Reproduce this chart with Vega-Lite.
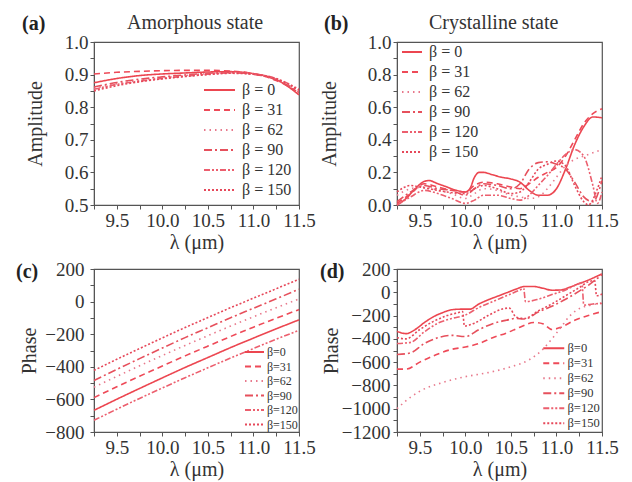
{
  "$schema": "https://vega.github.io/schema/vega-lite/v6.json",
  "padding": {"left": 15, "top": 12, "right": 5, "bottom": 2},
  "background": "white",
  "config": {
    "view": {"stroke": "#555", "strokeWidth": 1.2},
    "font": "Liberation Serif",
    "axis": {"grid": false, "labelFont": "Liberation Serif", "labelFontSize": 19, "labelColor": "#333", "labelPadding": 2, "labelOverlap": false, "labelFlush": false, "titleFont": "Liberation Serif", "titleFontSize": 20, "titleFontWeight": "normal", "titleColor": "#333", "tickSize": 4, "tickColor": "#555", "domainColor": "#555"},
    "legend": {"labelFont": "Liberation Serif", "labelColor": "#333", "padding": 0, "symbolStrokeWidth": 1.8},
    "title": {"font": "Liberation Serif", "fontSize": 20, "fontWeight": "bold", "color": "#222", "anchor": "start", "frame": "group", "subtitleFont": "Liberation Serif", "subtitleFontSize": 20, "subtitleColor": "#333", "subtitleFontWeight": "normal"}
  },
  "datasets": {
    "a": [
      {"lam":9.25,"val":0.875,"beta":"β = 0"},{"lam":9.5,"val":0.888,"beta":"β = 0"},{"lam":9.75,"val":0.897,"beta":"β = 0"},{"lam":10,"val":0.902,"beta":"β = 0"},{"lam":10.25,"val":0.905,"beta":"β = 0"},{"lam":10.5,"val":0.908,"beta":"β = 0"},{"lam":10.75,"val":0.909,"beta":"β = 0"},{"lam":11,"val":0.903,"beta":"β = 0"},{"lam":11.25,"val":0.885,"beta":"β = 0"},{"lam":11.5,"val":0.838,"beta":"β = 0"},
      {"lam":9.25,"val":0.902,"beta":"β = 31"},{"lam":9.5,"val":0.907,"beta":"β = 31"},{"lam":9.75,"val":0.910,"beta":"β = 31"},{"lam":10,"val":0.912,"beta":"β = 31"},{"lam":10.25,"val":0.913,"beta":"β = 31"},{"lam":10.5,"val":0.913,"beta":"β = 31"},{"lam":10.75,"val":0.911,"beta":"β = 31"},{"lam":11,"val":0.903,"beta":"β = 31"},{"lam":11.25,"val":0.882,"beta":"β = 31"},{"lam":11.5,"val":0.845,"beta":"β = 31"},
      {"lam":9.25,"val":0.858,"beta":"β = 62"},{"lam":9.5,"val":0.872,"beta":"β = 62"},{"lam":9.75,"val":0.882,"beta":"β = 62"},{"lam":10,"val":0.890,"beta":"β = 62"},{"lam":10.25,"val":0.897,"beta":"β = 62"},{"lam":10.5,"val":0.903,"beta":"β = 62"},{"lam":10.75,"val":0.906,"beta":"β = 62"},{"lam":11,"val":0.902,"beta":"β = 62"},{"lam":11.25,"val":0.886,"beta":"β = 62"},{"lam":11.5,"val":0.850,"beta":"β = 62"},
      {"lam":9.25,"val":0.862,"beta":"β = 90"},{"lam":9.5,"val":0.876,"beta":"β = 90"},{"lam":9.75,"val":0.886,"beta":"β = 90"},{"lam":10,"val":0.893,"beta":"β = 90"},{"lam":10.25,"val":0.899,"beta":"β = 90"},{"lam":10.5,"val":0.904,"beta":"β = 90"},{"lam":10.75,"val":0.906,"beta":"β = 90"},{"lam":11,"val":0.901,"beta":"β = 90"},{"lam":11.25,"val":0.884,"beta":"β = 90"},{"lam":11.5,"val":0.845,"beta":"β = 90"},
      {"lam":9.25,"val":0.855,"beta":"β = 120"},{"lam":9.5,"val":0.870,"beta":"β = 120"},{"lam":9.75,"val":0.880,"beta":"β = 120"},{"lam":10,"val":0.888,"beta":"β = 120"},{"lam":10.25,"val":0.895,"beta":"β = 120"},{"lam":10.5,"val":0.901,"beta":"β = 120"},{"lam":10.75,"val":0.905,"beta":"β = 120"},{"lam":11,"val":0.902,"beta":"β = 120"},{"lam":11.25,"val":0.888,"beta":"β = 120"},{"lam":11.5,"val":0.855,"beta":"β = 120"},
      {"lam":9.25,"val":0.850,"beta":"β = 150"},{"lam":9.5,"val":0.866,"beta":"β = 150"},{"lam":9.75,"val":0.878,"beta":"β = 150"},{"lam":10,"val":0.887,"beta":"β = 150"},{"lam":10.25,"val":0.894,"beta":"β = 150"},{"lam":10.5,"val":0.900,"beta":"β = 150"},{"lam":10.75,"val":0.904,"beta":"β = 150"},{"lam":11,"val":0.901,"beta":"β = 150"},{"lam":11.25,"val":0.887,"beta":"β = 150"},{"lam":11.5,"val":0.852,"beta":"β = 150"}
    ],
    "b": [
      {"lam":9.25,"val":0.0,"beta":"β = 0"},{"lam":9.35,"val":0.04,"beta":"β = 0"},{"lam":9.45,"val":0.10,"beta":"β = 0"},{"lam":9.55,"val":0.145,"beta":"β = 0"},{"lam":9.6,"val":0.15,"beta":"β = 0"},{"lam":9.7,"val":0.13,"beta":"β = 0"},{"lam":9.8,"val":0.11,"beta":"β = 0"},{"lam":9.9,"val":0.09,"beta":"β = 0"},{"lam":10.0,"val":0.08,"beta":"β = 0"},{"lam":10.05,"val":0.10,"beta":"β = 0"},{"lam":10.1,"val":0.17,"beta":"β = 0"},{"lam":10.15,"val":0.20,"beta":"β = 0"},{"lam":10.2,"val":0.20,"beta":"β = 0"},{"lam":10.3,"val":0.185,"beta":"β = 0"},{"lam":10.4,"val":0.17,"beta":"β = 0"},{"lam":10.5,"val":0.16,"beta":"β = 0"},{"lam":10.6,"val":0.14,"beta":"β = 0"},{"lam":10.7,"val":0.09,"beta":"β = 0"},{"lam":10.8,"val":0.06,"beta":"β = 0"},{"lam":10.9,"val":0.06,"beta":"β = 0"},{"lam":11.0,"val":0.10,"beta":"β = 0"},{"lam":11.1,"val":0.22,"beta":"β = 0"},{"lam":11.2,"val":0.37,"beta":"β = 0"},{"lam":11.3,"val":0.48,"beta":"β = 0"},{"lam":11.4,"val":0.54,"beta":"β = 0"},{"lam":11.5,"val":0.535,"beta":"β = 0"},
      {"lam":9.25,"val":0.01,"beta":"β = 31"},{"lam":9.4,"val":0.07,"beta":"β = 31"},{"lam":9.55,"val":0.13,"beta":"β = 31"},{"lam":9.7,"val":0.11,"beta":"β = 31"},{"lam":9.85,"val":0.09,"beta":"β = 31"},{"lam":10.0,"val":0.08,"beta":"β = 31"},{"lam":10.1,"val":0.12,"beta":"β = 31"},{"lam":10.2,"val":0.14,"beta":"β = 31"},{"lam":10.35,"val":0.13,"beta":"β = 31"},{"lam":10.5,"val":0.11,"beta":"β = 31"},{"lam":10.6,"val":0.10,"beta":"β = 31"},{"lam":10.7,"val":0.13,"beta":"β = 31"},{"lam":10.8,"val":0.17,"beta":"β = 31"},{"lam":10.9,"val":0.20,"beta":"β = 31"},{"lam":11.0,"val":0.23,"beta":"β = 31"},{"lam":11.1,"val":0.30,"beta":"β = 31"},{"lam":11.2,"val":0.40,"beta":"β = 31"},{"lam":11.3,"val":0.50,"beta":"β = 31"},{"lam":11.4,"val":0.56,"beta":"β = 31"},{"lam":11.5,"val":0.59,"beta":"β = 31"},
      {"lam":9.25,"val":0.06,"beta":"β = 62"},{"lam":9.4,"val":0.10,"beta":"β = 62"},{"lam":9.55,"val":0.11,"beta":"β = 62"},{"lam":9.7,"val":0.09,"beta":"β = 62"},{"lam":9.85,"val":0.07,"beta":"β = 62"},{"lam":10.0,"val":0.04,"beta":"β = 62"},{"lam":10.1,"val":0.07,"beta":"β = 62"},{"lam":10.2,"val":0.10,"beta":"β = 62"},{"lam":10.35,"val":0.09,"beta":"β = 62"},{"lam":10.5,"val":0.06,"beta":"β = 62"},{"lam":10.6,"val":0.05,"beta":"β = 62"},{"lam":10.7,"val":0.04,"beta":"β = 62"},{"lam":10.8,"val":0.05,"beta":"β = 62"},{"lam":10.9,"val":0.10,"beta":"β = 62"},{"lam":11.0,"val":0.17,"beta":"β = 62"},{"lam":11.1,"val":0.24,"beta":"β = 62"},{"lam":11.2,"val":0.28,"beta":"β = 62"},{"lam":11.3,"val":0.30,"beta":"β = 62"},{"lam":11.4,"val":0.32,"beta":"β = 62"},{"lam":11.5,"val":0.34,"beta":"β = 62"},
      {"lam":9.25,"val":0.02,"beta":"β = 90"},{"lam":9.4,"val":0.08,"beta":"β = 90"},{"lam":9.55,"val":0.12,"beta":"β = 90"},{"lam":9.7,"val":0.10,"beta":"β = 90"},{"lam":9.85,"val":0.09,"beta":"β = 90"},{"lam":10.0,"val":0.06,"beta":"β = 90"},{"lam":10.1,"val":0.10,"beta":"β = 90"},{"lam":10.2,"val":0.13,"beta":"β = 90"},{"lam":10.35,"val":0.12,"beta":"β = 90"},{"lam":10.5,"val":0.10,"beta":"β = 90"},{"lam":10.6,"val":0.13,"beta":"β = 90"},{"lam":10.7,"val":0.22,"beta":"β = 90"},{"lam":10.8,"val":0.26,"beta":"β = 90"},{"lam":10.9,"val":0.265,"beta":"β = 90"},{"lam":11.0,"val":0.25,"beta":"β = 90"},{"lam":11.1,"val":0.22,"beta":"β = 90"},{"lam":11.2,"val":0.14,"beta":"β = 90"},{"lam":11.3,"val":0.05,"beta":"β = 90"},{"lam":11.4,"val":0.02,"beta":"β = 90"},{"lam":11.5,"val":0.15,"beta":"β = 90"},
      {"lam":9.25,"val":0.0,"beta":"β = 120"},{"lam":9.4,"val":0.05,"beta":"β = 120"},{"lam":9.55,"val":0.09,"beta":"β = 120"},{"lam":9.7,"val":0.07,"beta":"β = 120"},{"lam":9.85,"val":0.04,"beta":"β = 120"},{"lam":10.0,"val":0.01,"beta":"β = 120"},{"lam":10.1,"val":0.03,"beta":"β = 120"},{"lam":10.2,"val":0.06,"beta":"β = 120"},{"lam":10.35,"val":0.06,"beta":"β = 120"},{"lam":10.5,"val":0.04,"beta":"β = 120"},{"lam":10.6,"val":0.03,"beta":"β = 120"},{"lam":10.7,"val":0.06,"beta":"β = 120"},{"lam":10.8,"val":0.12,"beta":"β = 120"},{"lam":10.9,"val":0.18,"beta":"β = 120"},{"lam":11.0,"val":0.25,"beta":"β = 120"},{"lam":11.1,"val":0.31,"beta":"β = 120"},{"lam":11.2,"val":0.34,"beta":"β = 120"},{"lam":11.3,"val":0.30,"beta":"β = 120"},{"lam":11.4,"val":0.12,"beta":"β = 120"},{"lam":11.45,"val":0.01,"beta":"β = 120"},{"lam":11.5,"val":0.08,"beta":"β = 120"},
      {"lam":9.25,"val":0.08,"beta":"β = 150"},{"lam":9.4,"val":0.12,"beta":"β = 150"},{"lam":9.5,"val":0.11,"beta":"β = 150"},{"lam":9.6,"val":0.10,"beta":"β = 150"},{"lam":9.8,"val":0.08,"beta":"β = 150"},{"lam":10.0,"val":0.07,"beta":"β = 150"},{"lam":10.1,"val":0.10,"beta":"β = 150"},{"lam":10.2,"val":0.12,"beta":"β = 150"},{"lam":10.35,"val":0.10,"beta":"β = 150"},{"lam":10.5,"val":0.07,"beta":"β = 150"},{"lam":10.6,"val":0.08,"beta":"β = 150"},{"lam":10.7,"val":0.14,"beta":"β = 150"},{"lam":10.8,"val":0.22,"beta":"β = 150"},{"lam":10.9,"val":0.25,"beta":"β = 150"},{"lam":11.0,"val":0.27,"beta":"β = 150"},{"lam":11.1,"val":0.24,"beta":"β = 150"},{"lam":11.2,"val":0.12,"beta":"β = 150"},{"lam":11.3,"val":0.02,"beta":"β = 150"},{"lam":11.35,"val":0.0,"beta":"β = 150"},{"lam":11.45,"val":0.10,"beta":"β = 150"},{"lam":11.5,"val":0.18,"beta":"β = 150"}
    ],
    "c": [
      {"lam":9.25,"val":-667,"beta":"β=0"},{"lam":9.5,"val":-599,"beta":"β=0"},{"lam":9.75,"val":-533,"beta":"β=0"},{"lam":10,"val":-468,"beta":"β=0"},{"lam":10.25,"val":-404,"beta":"β=0"},{"lam":10.5,"val":-343,"beta":"β=0"},{"lam":10.75,"val":-282,"beta":"β=0"},{"lam":11,"val":-224,"beta":"β=0"},{"lam":11.25,"val":-167,"beta":"β=0"},{"lam":11.5,"val":-112,"beta":"β=0"},
      {"lam":9.25,"val":-589,"beta":"β=31"},{"lam":9.5,"val":-523,"beta":"β=31"},{"lam":9.75,"val":-458,"beta":"β=31"},{"lam":10,"val":-395,"beta":"β=31"},{"lam":10.25,"val":-333,"beta":"β=31"},{"lam":10.5,"val":-273,"beta":"β=31"},{"lam":10.75,"val":-214,"beta":"β=31"},{"lam":11,"val":-157,"beta":"β=31"},{"lam":11.25,"val":-102,"beta":"β=31"},{"lam":11.5,"val":-49,"beta":"β=31"},
      {"lam":9.25,"val":-525,"beta":"β=62"},{"lam":9.5,"val":-459,"beta":"β=62"},{"lam":9.75,"val":-394,"beta":"β=62"},{"lam":10,"val":-331,"beta":"β=62"},{"lam":10.25,"val":-269,"beta":"β=62"},{"lam":10.5,"val":-209,"beta":"β=62"},{"lam":10.75,"val":-150,"beta":"β=62"},{"lam":11,"val":-93,"beta":"β=62"},{"lam":11.25,"val":-38,"beta":"β=62"},{"lam":11.5,"val":16,"beta":"β=62"},
      {"lam":9.25,"val":-484,"beta":"β=90"},{"lam":9.5,"val":-416,"beta":"β=90"},{"lam":9.75,"val":-350,"beta":"β=90"},{"lam":10,"val":-285,"beta":"β=90"},{"lam":10.25,"val":-221,"beta":"β=90"},{"lam":10.5,"val":-160,"beta":"β=90"},{"lam":10.75,"val":-99,"beta":"β=90"},{"lam":11,"val":-41,"beta":"β=90"},{"lam":11.25,"val":17,"beta":"β=90"},{"lam":11.5,"val":76,"beta":"β=90"},
      {"lam":9.25,"val":-728,"beta":"β=120"},{"lam":9.5,"val":-660,"beta":"β=120"},{"lam":9.75,"val":-594,"beta":"β=120"},{"lam":10,"val":-530,"beta":"β=120"},{"lam":10.25,"val":-467,"beta":"β=120"},{"lam":10.5,"val":-406,"beta":"β=120"},{"lam":10.75,"val":-346,"beta":"β=120"},{"lam":11,"val":-288,"beta":"β=120"},{"lam":11.25,"val":-231,"beta":"β=120"},{"lam":11.5,"val":-176,"beta":"β=120"},
      {"lam":9.25,"val":-422,"beta":"β=150"},{"lam":9.5,"val":-354,"beta":"β=150"},{"lam":9.75,"val":-288,"beta":"β=150"},{"lam":10,"val":-223,"beta":"β=150"},{"lam":10.25,"val":-159,"beta":"β=150"},{"lam":10.5,"val":-98,"beta":"β=150"},{"lam":10.75,"val":-37,"beta":"β=150"},{"lam":11,"val":21,"beta":"β=150"},{"lam":11.25,"val":79,"beta":"β=150"},{"lam":11.5,"val":137,"beta":"β=150"}
    ],
    "d": [
      {"lam":9.25,"val":-335,"beta":"β=0"},{"lam":9.35,"val":-355,"beta":"β=0"},{"lam":9.45,"val":-320,"beta":"β=0"},{"lam":9.55,"val":-260,"beta":"β=0"},{"lam":9.65,"val":-210,"beta":"β=0"},{"lam":9.75,"val":-175,"beta":"β=0"},{"lam":9.85,"val":-150,"beta":"β=0"},{"lam":9.95,"val":-145,"beta":"β=0"},{"lam":10.05,"val":-145,"beta":"β=0"},{"lam":10.15,"val":-100,"beta":"β=0"},{"lam":10.25,"val":-65,"beta":"β=0"},{"lam":10.35,"val":-35,"beta":"β=0"},{"lam":10.45,"val":-5,"beta":"β=0"},{"lam":10.55,"val":25,"beta":"β=0"},{"lam":10.65,"val":50,"beta":"β=0"},{"lam":10.75,"val":50,"beta":"β=0"},{"lam":10.85,"val":35,"beta":"β=0"},{"lam":10.95,"val":18,"beta":"β=0"},{"lam":11.05,"val":20,"beta":"β=0"},{"lam":11.15,"val":45,"beta":"β=0"},{"lam":11.25,"val":75,"beta":"β=0"},{"lam":11.35,"val":105,"beta":"β=0"},{"lam":11.45,"val":140,"beta":"β=0"},{"lam":11.5,"val":158,"beta":"β=0"},
      {"lam":9.25,"val":-660,"beta":"β=31"},{"lam":9.35,"val":-660,"beta":"β=31"},{"lam":9.5,"val":-600,"beta":"β=31"},{"lam":9.7,"val":-530,"beta":"β=31"},{"lam":9.85,"val":-490,"beta":"β=31"},{"lam":10.0,"val":-470,"beta":"β=31"},{"lam":10.15,"val":-440,"beta":"β=31"},{"lam":10.3,"val":-390,"beta":"β=31"},{"lam":10.45,"val":-350,"beta":"β=31"},{"lam":10.6,"val":-300,"beta":"β=31"},{"lam":10.75,"val":-260,"beta":"β=31"},{"lam":10.85,"val":-270,"beta":"β=31"},{"lam":10.95,"val":-320,"beta":"β=31"},{"lam":11.05,"val":-300,"beta":"β=31"},{"lam":11.2,"val":-240,"beta":"β=31"},{"lam":11.35,"val":-200,"beta":"β=31"},{"lam":11.5,"val":-165,"beta":"β=31"},
      {"lam":9.25,"val":-1000,"beta":"β=62"},{"lam":9.4,"val":-900,"beta":"β=62"},{"lam":9.5,"val":-850,"beta":"β=62"},{"lam":9.75,"val":-775,"beta":"β=62"},{"lam":10.0,"val":-725,"beta":"β=62"},{"lam":10.25,"val":-690,"beta":"β=62"},{"lam":10.5,"val":-640,"beta":"β=62"},{"lam":10.7,"val":-580,"beta":"β=62"},{"lam":10.85,"val":-490,"beta":"β=62"},{"lam":10.95,"val":-400,"beta":"β=62"},{"lam":11.05,"val":-300,"beta":"β=62"},{"lam":11.15,"val":-200,"beta":"β=62"},{"lam":11.25,"val":-140,"beta":"β=62"},{"lam":11.35,"val":-115,"beta":"β=62"},{"lam":11.5,"val":-92,"beta":"β=62"},
      {"lam":9.25,"val":-535,"beta":"β=90"},{"lam":9.4,"val":-520,"beta":"β=90"},{"lam":9.55,"val":-440,"beta":"β=90"},{"lam":9.7,"val":-390,"beta":"β=90"},{"lam":9.85,"val":-370,"beta":"β=90"},{"lam":10.0,"val":-380,"beta":"β=90"},{"lam":10.15,"val":-320,"beta":"β=90"},{"lam":10.3,"val":-270,"beta":"β=90"},{"lam":10.45,"val":-240,"beta":"β=90"},{"lam":10.55,"val":-225,"beta":"β=90"},{"lam":10.65,"val":-230,"beta":"β=90"},{"lam":10.8,"val":-170,"beta":"β=90"},{"lam":10.95,"val":-120,"beta":"β=90"},{"lam":11.1,"val":-60,"beta":"β=90"},{"lam":11.25,"val":10,"beta":"β=90"},{"lam":11.35,"val":60,"beta":"β=90"},{"lam":11.45,"val":120,"beta":"β=90"},{"lam":11.5,"val":150,"beta":"β=90"},
      {"lam":9.25,"val":-440,"beta":"β=120"},{"lam":9.4,"val":-430,"beta":"β=120"},{"lam":9.55,"val":-340,"beta":"β=120"},{"lam":9.7,"val":-265,"beta":"β=120"},{"lam":9.85,"val":-225,"beta":"β=120"},{"lam":10.0,"val":-195,"beta":"β=120"},{"lam":10.15,"val":-130,"beta":"β=120"},{"lam":10.3,"val":-80,"beta":"β=120"},{"lam":10.45,"val":-30,"beta":"β=120"},{"lam":10.6,"val":20,"beta":"β=120"},{"lam":10.64,"val":35,"beta":"β=120"},{"lam":10.66,"val":-80,"beta":"β=120"},{"lam":10.8,"val":-60,"beta":"β=120"},{"lam":10.95,"val":-20,"beta":"β=120"},{"lam":11.1,"val":20,"beta":"β=120"},{"lam":11.25,"val":75,"beta":"β=120"},{"lam":11.28,"val":80,"beta":"β=120"},{"lam":11.3,"val":-110,"beta":"β=120"},{"lam":11.4,"val":-100,"beta":"β=120"},{"lam":11.5,"val":-96,"beta":"β=120"},
      {"lam":9.25,"val":-390,"beta":"β=150"},{"lam":9.35,"val":-400,"beta":"β=150"},{"lam":9.5,"val":-320,"beta":"β=150"},{"lam":9.65,"val":-250,"beta":"β=150"},{"lam":9.8,"val":-200,"beta":"β=150"},{"lam":9.92,"val":-175,"beta":"β=150"},{"lam":9.97,"val":-165,"beta":"β=150"},{"lam":9.99,"val":-290,"beta":"β=150"},{"lam":10.1,"val":-265,"beta":"β=150"},{"lam":10.25,"val":-200,"beta":"β=150"},{"lam":10.4,"val":-145,"beta":"β=150"},{"lam":10.48,"val":-135,"beta":"β=150"},{"lam":10.56,"val":-215,"beta":"β=150"},{"lam":10.65,"val":-225,"beta":"β=150"},{"lam":10.8,"val":-160,"beta":"β=150"},{"lam":10.95,"val":-100,"beta":"β=150"},{"lam":11.1,"val":-30,"beta":"β=150"},{"lam":11.25,"val":40,"beta":"β=150"},{"lam":11.35,"val":90,"beta":"β=150"},{"lam":11.42,"val":100,"beta":"β=150"},{"lam":11.44,"val":-30,"beta":"β=150"},{"lam":11.5,"val":-15,"beta":"β=150"}
    ]
  },
  "columns": 2,
  "bounds": "flush",
  "spacing": {"row": 64, "column": 98},
  "resolve": {
    "scale": {"x": "independent", "y": "independent", "color": "independent", "strokeDash": "independent"},
    "legend": {"color": "independent", "strokeDash": "independent"}
  },
  "concat": [
    {
      "width": 205, "height": 163,
      "title": {"text": "(a)", "subtitle": "\u200b\u00a0\u00a0\u00a0\u00a0\u00a0\u00a0\u00a0\u00a0\u00a0\u00a0\u00a0\u00a0\u00a0\u00a0\u00a0\u00a0\u00a0\u00a0\u00a0\u00a0\u00a0Amorphous state", "dx": -72, "offset": -2, "subtitlePadding": -21},
      "data": {"name": "a"},
      "mark": {"type": "line", "strokeWidth": 1.6, "interpolate": "monotone"},
      "encoding": {
        "x": {"field": "lam", "type": "quantitative", "scale": {"domain": [9.25, 11.5], "nice": false, "zero": false},
              "axis": {"title": "λ (μm)", "values": [9.25,9.5,9.75,10,10.25,10.5,10.75,11,11.25,11.5], "labelExpr": "round(datum.value*4) % 2 == 0 ? format(datum.value, '.1f') : ''", "titlePadding": 2, "labelOverlap": false}},
        "y": {"field": "val", "type": "quantitative", "scale": {"domain": [0.5, 1.0], "nice": false, "zero": false},
              "axis": {"title": "Amplitude", "values": [0.5,0.55,0.6,0.65,0.7,0.75,0.8,0.85,0.9,0.95,1.0], "labelExpr": "round(datum.value*20) % 2 == 0 ? format(datum.value, '.1f') : ''", "titlePadding": 19, "labelPadding": 2, "labelOverlap": false}},
        "color": {"field": "beta", "type": "nominal", "scale": {"domain": ["β = 0","β = 31","β = 62","β = 90","β = 120","β = 150"], "range": ["#ec4650","#ee4a58","#e8798c","#e6505c","#ec5f6e","#e6485a"]},
                  "legend": {"title": null, "orient": "bottom-right", "offset": 7, "labelFontSize": 16, "symbolType": "M-1,0H5.2", "symbolSize": 100, "rowPadding": 4, "labelOffset": 25}},
        "strokeDash": {"field": "beta", "type": "nominal", "scale": {"domain": ["β = 0","β = 31","β = 62","β = 90","β = 120","β = 150"], "range": [[1,0],[6,4],[1.5,4],[8,3,2,3],[6,2,2,2,2,2],[2,2]]},
                  "legend": {"title": null, "orient": "bottom-right", "offset": 7, "labelFontSize": 16, "symbolType": "M-1,0H5.2", "symbolSize": 100, "rowPadding": 4, "labelOffset": 25}}
      }
    },
    {
      "width": 205, "height": 163,
      "title": {"text": "(b)", "subtitle": "\u200b\u00a0\u00a0\u00a0\u00a0\u00a0\u00a0\u00a0\u00a0\u00a0\u00a0\u00a0\u00a0\u00a0\u00a0\u00a0\u00a0\u00a0\u00a0\u00a0\u00a0\u00a0Crystalline state", "dx": -73, "offset": -2, "subtitlePadding": -21},
      "data": {"name": "b"},
      "mark": {"type": "line", "strokeWidth": 1.6, "interpolate": "monotone"},
      "encoding": {
        "x": {"field": "lam", "type": "quantitative", "scale": {"domain": [9.25, 11.5], "nice": false, "zero": false},
              "axis": {"title": "λ (μm)", "values": [9.25,9.5,9.75,10,10.25,10.5,10.75,11,11.25,11.5], "labelExpr": "round(datum.value*4) % 2 == 0 ? format(datum.value, '.1f') : ''", "titlePadding": 2, "labelOverlap": false}},
        "y": {"field": "val", "type": "quantitative", "scale": {"domain": [0, 1.0], "nice": false, "zero": false},
              "axis": {"title": "Amplitude", "values": [0,0.1,0.2,0.3,0.4,0.5,0.6,0.7,0.8,0.9,1.0], "labelExpr": "round(datum.value*10) % 2 == 0 ? format(datum.value, '.1f') : ''", "titlePadding": 28, "labelPadding": 2, "labelOverlap": false}},
        "color": {"field": "beta", "type": "nominal", "scale": {"domain": ["β = 0","β = 31","β = 62","β = 90","β = 120","β = 150"], "range": ["#ec4650","#ee4a58","#e8798c","#e6505c","#ec5f6e","#e6485a"]},
                  "legend": {"title": null, "orient": "top-left", "offset": 2, "labelFontSize": 16, "symbolType": "M-1,0H3", "symbolSize": 100, "rowPadding": 4, "labelOffset": 14}},
        "strokeDash": {"field": "beta", "type": "nominal", "scale": {"domain": ["β = 0","β = 31","β = 62","β = 90","β = 120","β = 150"], "range": [[1,0],[6,4],[1.5,4],[8,3,2,3],[6,2,2,2,2,2],[2,2]]},
                  "legend": {"title": null, "orient": "top-left", "offset": 2, "labelFontSize": 16, "symbolType": "M-1,0H3", "symbolSize": 100, "rowPadding": 4, "labelOffset": 14}}
      }
    },
    {
      "width": 205, "height": 163,
      "title": {"text": "(c)", "dx": -78, "offset": -22},
      "data": {"name": "c"},
      "mark": {"type": "line", "strokeWidth": 1.6, "interpolate": "monotone"},
      "encoding": {
        "x": {"field": "lam", "type": "quantitative", "scale": {"domain": [9.25, 11.5], "nice": false, "zero": false},
              "axis": {"title": "λ (μm)", "values": [9.25,9.5,9.75,10,10.25,10.5,10.75,11,11.25,11.5], "labelExpr": "round(datum.value*4) % 2 == 0 ? format(datum.value, '.1f') : ''", "titlePadding": 2, "labelOverlap": false}},
        "y": {"field": "val", "type": "quantitative", "scale": {"domain": [-800, 200], "nice": false, "zero": false},
              "axis": {"title": "Phase", "values": [-800,-700,-600,-500,-400,-300,-200,-100,0,100,200], "labelExpr": "round(datum.value/100) % 2 == 0 ? format(datum.value, 'd') : ''", "titlePadding": 5, "labelPadding": 6, "labelOverlap": false}},
        "color": {"field": "beta", "type": "nominal", "scale": {"domain": ["β=0","β=31","β=62","β=90","β=120","β=150"], "range": ["#ec4650","#ee4a58","#e8798c","#e6505c","#ec5f6e","#e6485a"]},
                  "legend": {"title": null, "orient": "bottom-right", "offset": 1, "labelFontSize": 12, "symbolType": "M-1,0H3.75", "symbolSize": 64, "rowPadding": 2.5, "labelOffset": 12}},
        "strokeDash": {"field": "beta", "type": "nominal", "scale": {"domain": ["β=0","β=31","β=62","β=90","β=120","β=150"], "range": [[1,0],[6,4],[1.5,4],[8,3,2,3],[6,2,2,2,2,2],[2,2]]},
                  "legend": {"title": null, "orient": "bottom-right", "offset": 1, "labelFontSize": 12, "symbolType": "M-1,0H3.75", "symbolSize": 64, "rowPadding": 2.5, "labelOffset": 12}}
      }
    },
    {
      "width": 205, "height": 163,
      "title": {"text": "(d)", "dx": -77, "offset": -22},
      "data": {"name": "d"},
      "mark": {"type": "line", "strokeWidth": 1.6, "interpolate": "monotone"},
      "encoding": {
        "x": {"field": "lam", "type": "quantitative", "scale": {"domain": [9.25, 11.5], "nice": false, "zero": false},
              "axis": {"title": "λ (μm)", "values": [9.25,9.5,9.75,10,10.25,10.5,10.75,11,11.25,11.5], "labelExpr": "round(datum.value*4) % 2 == 0 ? format(datum.value, '.1f') : ''", "titlePadding": 2, "labelOverlap": false}},
        "y": {"field": "val", "type": "quantitative", "scale": {"domain": [-1200, 200], "nice": false, "zero": false},
              "axis": {"title": "Phase", "values": [-1200,-1100,-1000,-900,-800,-700,-600,-500,-400,-300,-200,-100,0,100,200], "labelExpr": "round(datum.value/100) % 2 == 0 ? format(datum.value, 'd') : ''", "titlePadding": 0, "labelPadding": 3, "labelOverlap": false}},
        "color": {"field": "beta", "type": "nominal", "scale": {"domain": ["β=0","β=31","β=62","β=90","β=120","β=150"], "range": ["#ec4650","#ee4a58","#e8798c","#e6505c","#ec5f6e","#e6485a"]},
                  "legend": {"title": null, "orient": "bottom-right", "offset": 2, "labelFontSize": 12.5, "symbolType": "M-1,0H4.25", "symbolSize": 64, "rowPadding": 2, "labelOffset": 14}},
        "strokeDash": {"field": "beta", "type": "nominal", "scale": {"domain": ["β=0","β=31","β=62","β=90","β=120","β=150"], "range": [[1,0],[6,4],[1.5,4],[8,3,2,3],[6,2,2,2,2,2],[2,2]]},
                  "legend": {"title": null, "orient": "bottom-right", "offset": 2, "labelFontSize": 12.5, "symbolType": "M-1,0H4.25", "symbolSize": 64, "rowPadding": 2, "labelOffset": 14}}
      }
    }
  ]
}
